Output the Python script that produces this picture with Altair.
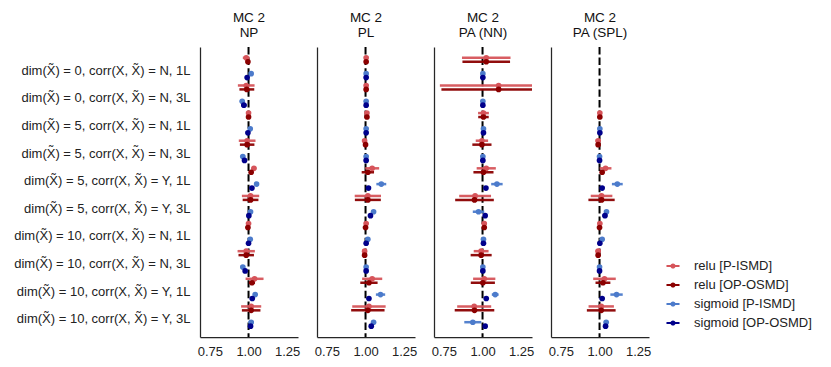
import altair as alt
import pandas as pd

rows = [
    "dim(X̃) = 0, corr(X, X̃) = N, 1L",
    "dim(X̃) = 0, corr(X, X̃) = N, 3L",
    "dim(X̃) = 5, corr(X, X̃) = N, 1L",
    "dim(X̃) = 5, corr(X, X̃) = N, 3L",
    "dim(X̃) = 5, corr(X, X̃) = Y, 1L",
    "dim(X̃) = 5, corr(X, X̃) = Y, 3L",
    "dim(X̃) = 10, corr(X, X̃) = N, 1L",
    "dim(X̃) = 10, corr(X, X̃) = N, 3L",
    "dim(X̃) = 10, corr(X, X̃) = Y, 1L",
    "dim(X̃) = 10, corr(X, X̃) = Y, 3L",
]
panels = ["NP", "PL", "PA (NN)", "PA (SPL)"]
series = ["relu [P-ISMD]", "relu [OP-OSMD]", "sigmoid [P-ISMD]", "sigmoid [OP-OSMD]"]
colors = ["#d6545a", "#8b0000", "#4c7bcb", "#00008b"]

# NP
np_relu_p_mean = [0.985, 0.985, 1.000, 0.991, 1.035, 1.013, 1.000, 0.985, 1.039, 1.017]
np_relu_p_err = [0.022, 0.054, 0.010, 0.054, 0.015, 0.056, 0.011, 0.056, 0.058, 0.065]
np_relu_op_mean = [0.996, 0.989, 1.000, 0.991, 1.017, 1.013, 0.996, 0.985, 1.022, 1.017]
np_relu_op_err = [0.010, 0.048, 0.010, 0.047, 0.012, 0.051, 0.008, 0.050, 0.020, 0.060]
np_sig_p_mean = [1.017, 0.959, 1.011, 0.963, 1.052, 1.013, 1.011, 0.963, 1.043, 1.017]
np_sig_p_err = [0.012, 0.015, 0.012, 0.015, 0.012, 0.013, 0.010, 0.015, 0.012, 0.017]
np_sig_op_mean = [0.991, 0.970, 0.996, 0.974, 1.022, 1.002, 1.000, 0.978, 1.024, 1.013]
np_sig_op_err = [0.006, 0.018, 0.007, 0.015, 0.010, 0.012, 0.006, 0.013, 0.012, 0.012]

# PL
pl_relu_p_mean = [1.004, 1.004, 1.009, 0.994, 1.043, 1.015, 1.004, 0.994, 1.043, 1.022]
pl_relu_p_err = [0.008, 0.008, 0.008, 0.015, 0.045, 0.085, 0.008, 0.015, 0.065, 0.108]
pl_relu_op_mean = [1.004, 1.004, 1.009, 1.000, 1.015, 1.015, 1.000, 0.994, 1.022, 1.015]
pl_relu_op_err = [0.006, 0.006, 0.006, 0.010, 0.040, 0.084, 0.006, 0.010, 0.056, 0.108]
pl_sig_p_mean = [1.004, 1.004, 1.004, 1.004, 1.102, 1.052, 1.015, 1.004, 1.097, 1.052]
pl_sig_p_err = [0.008, 0.008, 0.008, 0.008, 0.032, 0.013, 0.008, 0.008, 0.030, 0.013]
pl_sig_op_mean = [1.004, 1.004, 1.004, 1.004, 1.019, 1.032, 1.004, 1.004, 1.022, 1.037]
pl_sig_op_err = [0.005, 0.005, 0.005, 0.005, 0.010, 0.012, 0.005, 0.005, 0.008, 0.012]

# PA (NN)
nn_relu_p_mean = [1.024, 1.104, 1.006, 0.996, 1.024, 0.952, 1.011, 0.991, 1.011, 0.946]
nn_relu_p_err = [0.157, 0.380, 0.035, 0.040, 0.062, 0.103, 0.015, 0.048, 0.072, 0.110]
nn_relu_op_mean = [1.024, 1.104, 1.006, 0.996, 1.006, 0.948, 1.011, 0.991, 1.002, 0.948]
nn_relu_op_err = [0.154, 0.370, 0.034, 0.062, 0.065, 0.125, 0.012, 0.068, 0.078, 0.128]
nn_sig_p_mean = [1.002, 1.002, 1.006, 1.002, 1.093, 0.974, 1.006, 1.002, 1.082, 0.937]
nn_sig_p_err = [0.010, 0.010, 0.010, 0.010, 0.037, 0.037, 0.010, 0.010, 0.022, 0.055]
nn_sig_op_mean = [1.002, 1.002, 1.006, 1.002, 1.022, 1.017, 1.006, 1.002, 1.024, 1.017]
nn_sig_op_err = [0.006, 0.006, 0.006, 0.006, 0.010, 0.012, 0.006, 0.006, 0.010, 0.010]

# PA (SPL)
spl_relu_p_mean = [None, None, 1.002, 0.991, 1.039, 1.013, 1.002, 0.991, 1.032, 1.011]
spl_relu_p_err = [None, None, 0.012, 0.017, 0.038, 0.070, 0.010, 0.017, 0.073, 0.082]
spl_relu_op_mean = [None, None, 1.002, 0.991, 1.017, 1.013, 1.000, 0.991, 1.022, 1.011]
spl_relu_op_err = [None, None, 0.010, 0.012, 0.012, 0.085, 0.008, 0.012, 0.048, 0.093]
spl_sig_p_mean = [None, None, 1.002, 1.000, 1.115, 1.045, 1.017, 1.000, 1.110, 1.043]
spl_sig_p_err = [None, None, 0.010, 0.010, 0.035, 0.015, 0.010, 0.010, 0.040, 0.015]
spl_sig_op_mean = [None, None, 1.002, 1.000, 1.017, 1.035, 1.002, 1.000, 1.017, 1.039]
spl_sig_op_err = [None, None, 0.006, 0.006, 0.010, 0.015, 0.006, 0.006, 0.008, 0.012]

panel_data = {
    "NP": [(np_relu_p_mean, np_relu_p_err), (np_relu_op_mean, np_relu_op_err),
           (np_sig_p_mean, np_sig_p_err), (np_sig_op_mean, np_sig_op_err)],
    "PL": [(pl_relu_p_mean, pl_relu_p_err), (pl_relu_op_mean, pl_relu_op_err),
           (pl_sig_p_mean, pl_sig_p_err), (pl_sig_op_mean, pl_sig_op_err)],
    "PA (NN)": [(nn_relu_p_mean, nn_relu_p_err), (nn_relu_op_mean, nn_relu_op_err),
                (nn_sig_p_mean, nn_sig_p_err), (nn_sig_op_mean, nn_sig_op_err)],
    "PA (SPL)": [(spl_relu_p_mean, spl_relu_p_err), (spl_relu_op_mean, spl_relu_op_err),
                 (spl_sig_p_mean, spl_sig_p_err), (spl_sig_op_mean, spl_sig_op_err)],
}

records = []
for pname in panels:
    for s, (means, errs) in zip(series, panel_data[pname]):
        for r, m, e in zip(rows, means, errs):
            if m is None:
                continue
            records.append({"panel": pname, "row": r, "series": s,
                            "mean": m, "lo": m - e, "hi": m + e})
df = pd.DataFrame(records)
ref_df = pd.DataFrame({"v": [1.0]})

offset_domain = ["relu [P-ISMD]", "relu [OP-OSMD]", "gap1", "gap2",
                 "sigmoid [P-ISMD]", "sigmoid [OP-OSMD]"]
xscale = alt.Scale(domain=[0.686, 1.32], nice=False, zero=False)
legend_path = ("M-1,-0.15L1,-0.15L1,0.15L-1,0.15Z"
               "M-0.4,0A0.4,0.4,0,1,1,0.4,0A0.4,0.4,0,1,1,-0.4,0Z")
legend = alt.Legend(
    title=None, orient="none", legendX=466, legendY=212,
    symbolType=legend_path, symbolSize=170, labelFontSize=13,
    labelOffset=14, rowPadding=5, labelColor="#222222",
    symbolStrokeWidth=0, symbolOpacity=1,
)
color = alt.Color("series:N", scale=alt.Scale(domain=series, range=colors), legend=legend)


def panel_chart(pname, first):
    base = alt.Chart(df).transform_filter(alt.datum.panel == pname)
    y = alt.Y("row:N", sort=rows,
              scale=alt.Scale(domain=rows, type="band", paddingInner=0, paddingOuter=0.25),
              axis=alt.Axis(title=None, labels=first, ticks=False, domain=True,
                            labelPadding=10, labelFontSize=13, labelColor="#222222",
                            labelOffset=3, labelLimit=400,
                            domainColor="#262626", domainWidth=1.25, grid=False))
    yoff = alt.YOffset("series:N", scale=alt.Scale(domain=offset_domain, type="point", padding=2.6))
    xaxis = alt.Axis(values=[0.75, 1.0, 1.25], format=".2f", title=None, ticks=False,
                     grid=False, labelFontSize=13, labelColor="#222222", labelPadding=8,
                     domainColor="#262626", domainWidth=1.25)
    ref = alt.Chart(ref_df).mark_rule(strokeDash=[7.4, 3.2], strokeWidth=2, color="black").encode(
        x=alt.X("v:Q", scale=xscale, axis=xaxis))
    bars = base.mark_rule(strokeWidth=2.5, clip=True, opacity=0.95).encode(
        x=alt.X("lo:Q", scale=xscale, axis=xaxis), x2="hi:Q", y=y, yOffset=yoff, color=color)
    pts = base.mark_point(filled=True, size=32, opacity=1, clip=True).encode(
        x=alt.X("mean:Q", scale=xscale, axis=xaxis), y=y, yOffset=yoff, color=color)
    return alt.layer(ref, bars, pts).properties(
        width=98, height=290,
        title=alt.TitleParams(["MC 2", pname], fontSize=13.5, fontWeight="normal",
                              lineHeight=15, color="#111111", offset=7, anchor="middle"))


chart = alt.hconcat(*[panel_chart(p, i == 0) for i, p in enumerate(panels)], spacing=14).configure(
    font="Liberation Sans",
).configure_view(stroke=None).properties(padding={"left": 5, "top": 2, "right": 5, "bottom": 5})

chart.save("out.html", embed_options={"renderer": "svg", "actions": False})
